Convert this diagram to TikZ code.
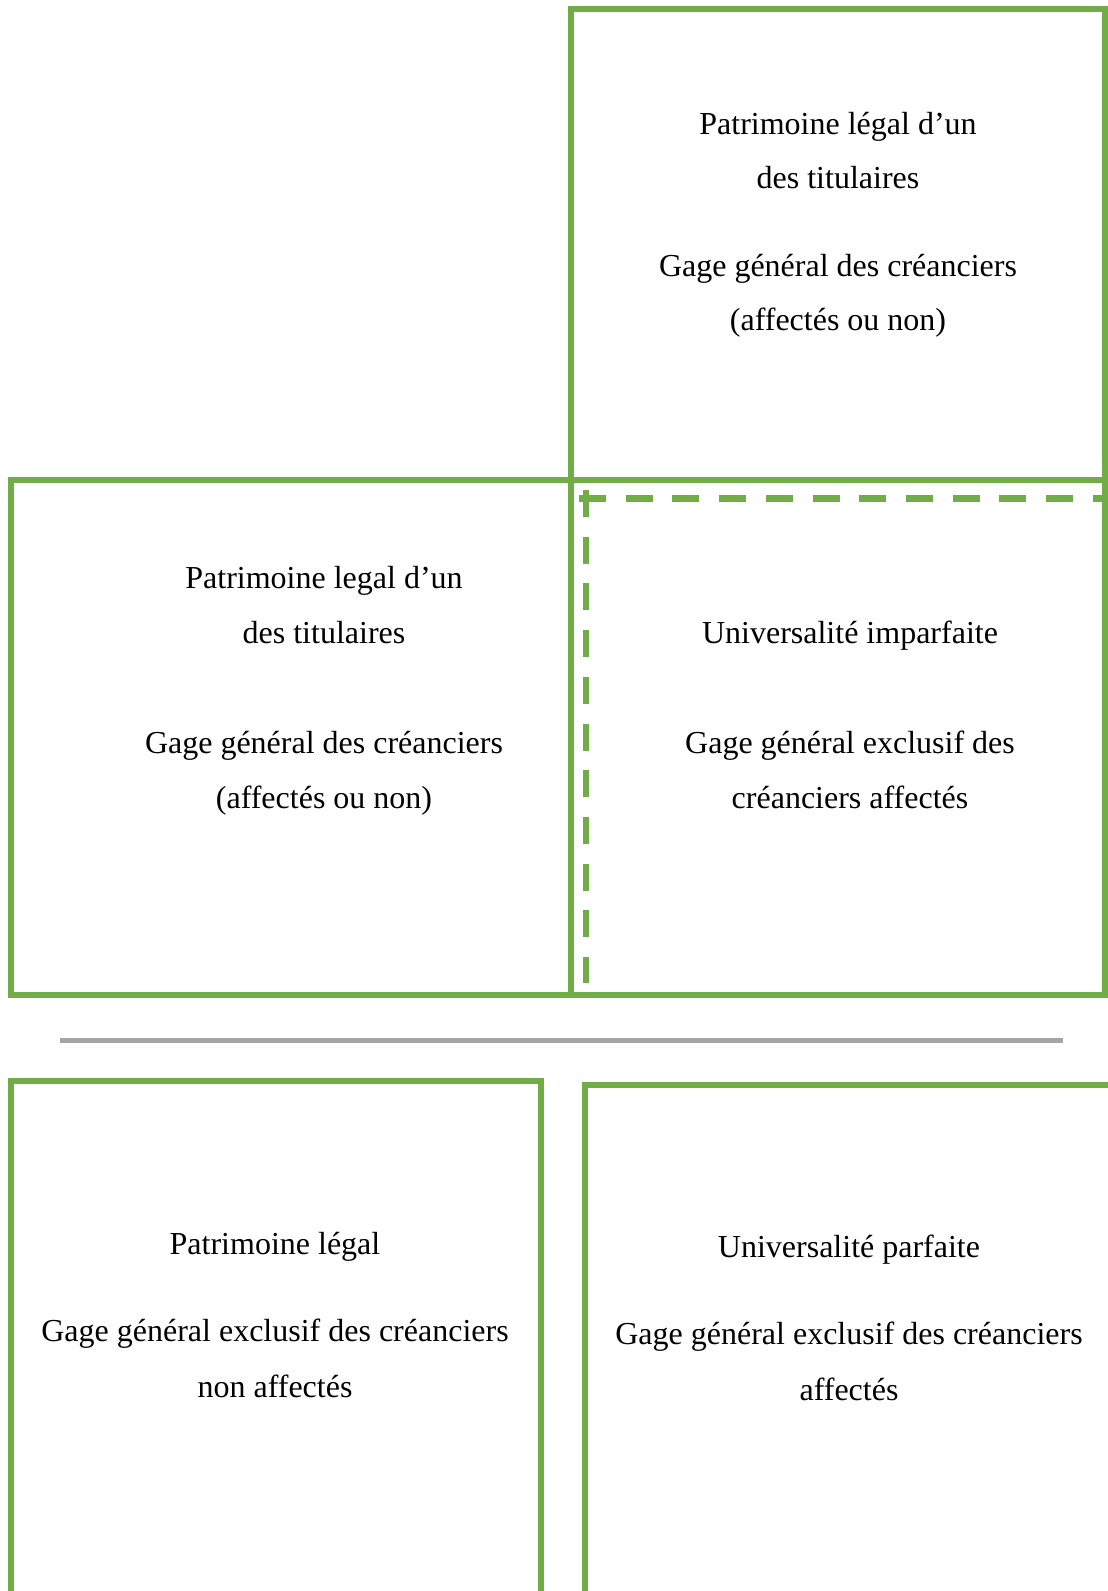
\documentclass[tikz,border=0pt]{standalone}
\usepackage{fontspec}
\setmainfont{Liberation Serif}
\definecolor{boxgreen}{HTML}{70AD47}
\definecolor{rulegray}{HTML}{A5A5A5}
\tikzset{
  frame/.style={draw=boxgreen, line width=3pt, line join=miter},
  dashframe/.style={draw=boxgreen, line width=3.2pt, dash pattern=on 13.5pt off 9.85pt},
  sep/.style={draw=rulegray, line width=2.2pt},
  lbl/.style={font=\fontsize{16}{27.5}\selectfont, inner sep=0pt, anchor=base}
}
\begin{document}
\begin{tikzpicture}[x=0.5pt,y=-0.5pt]
\useasboundingbox (0,0) rectangle (1108,1591);
\clip (0,0) rectangle (1108,1591);
\fill[white] (0,0) rectangle (1108,1591);

% top right box
\draw[frame] (570.5,8.7) rectangle (1105,480);
% middle boxes
\draw[frame] (11,480) rectangle (570.5,995);
\draw[frame] (570.5,480) rectangle (1105,995);
% dashed inner frame
\coordinate (dh1) at (579,498.5);
\coordinate (dh2) at (1108,498.5);
\coordinate (dv1) at (586,490);
\coordinate (dv2) at (586,983);
\draw[dashframe] (dh1) -- (dh2);
\draw[dashframe] (dv1) -- (dv2);
% separator
\coordinate (s1) at (60,1040.5);
\coordinate (s2) at (1063,1040.5);
\draw[sep] (s1) -- (s2);
% bottom boxes (open at the bottom / right)
\draw[frame] (11,1640) -- (11,1081) -- (540.5,1081) -- (540.5,1640);
\draw[frame] (585,1640) -- (585,1084.5) -- (1140,1084.5) -- (1140,1640);

% texts
\node[lbl] (tr1) at (838,134) {Patrimoine légal d’un};
\node[lbl] (tr2) at (838,188) {des titulaires};
\node[lbl] (tr3) at (838,276) {Gage général des créanciers};
\node[lbl] (tr4) at (838,330) {(affectés ou non)};

\node[lbl] (ml1) at (324,588) {Patrimoine legal d’un};
\node[lbl] (ml2) at (324,643) {des titulaires};
\node[lbl] (ml3) at (324,753) {Gage général des créanciers};
\node[lbl] (ml4) at (324,808) {(affectés ou non)};

\node[lbl] (mr1) at (850,643) {Universalité imparfaite};
\node[lbl] (mr2) at (850,753) {Gage général exclusif des};
\node[lbl] (mr3) at (850,808) {créanciers affectés};

\node[lbl] (bl1) at (275,1254) {Patrimoine légal};
\node[lbl] (bl2) at (275,1341) {Gage général exclusif des créanciers};
\node[lbl] (bl3) at (275,1397) {non affectés};

\node[lbl] (br1) at (849,1257) {Universalité parfaite};
\node[lbl] (br2) at (849,1344) {Gage général exclusif des créanciers};
\node[lbl] (br3) at (849,1400) {affectés};
\end{tikzpicture}
\end{document}
